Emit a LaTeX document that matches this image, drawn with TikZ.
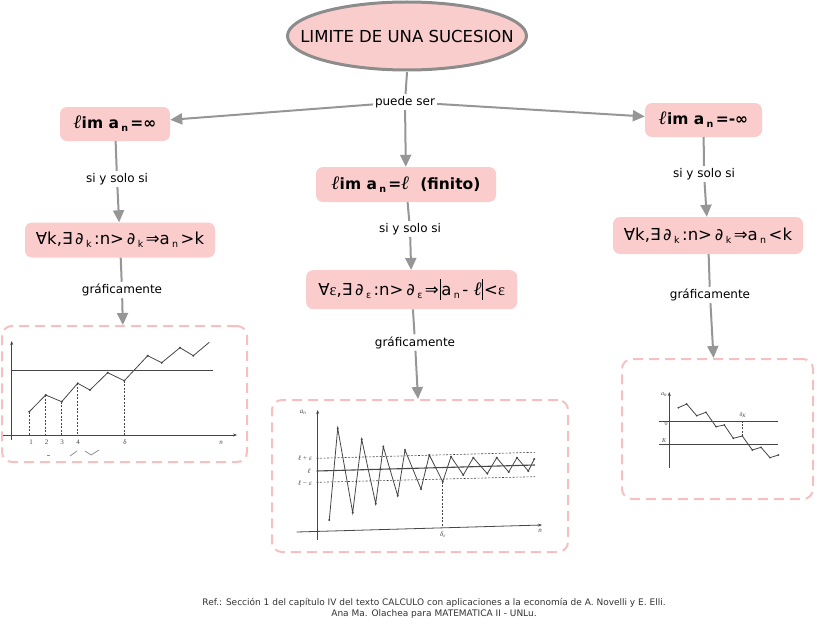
\documentclass[tikz,border=0pt]{standalone}
\usepackage{fontspec}
\setmainfont{DejaVu Sans}
\newfontfamily\lfont{Liberation Serif}
\usetikzlibrary{arrows.meta,shapes.geometric}
\definecolor{pinkf}{RGB}{250,204,204}
\definecolor{ellf}{RGB}{250,205,205}
\definecolor{connc}{RGB}{150,150,150}
\definecolor{ellb}{RGB}{140,140,140}
\definecolor{dashc}{RGB}{246,192,192}
\definecolor{ink}{RGB}{70,70,70}
\newcommand\sbn[1]{\kern0.15em\raisebox{-0.35ex}{\fontsize{9.5}{9.5}\selectfont #1}\kern0.15em}
\newcommand\ellbold{{\lfont\fontsize{19}{19}\selectfont\bfseries\itshape ℓ}}
\newcommand\ellit{{\lfont\fontsize{19}{19}\selectfont\itshape ℓ}}
\newcommand\eps{{\lfont ε}}
\newcommand\bigbar{\kern0.05em\rule[-5pt]{1pt}{21pt}\kern0.05em}
\tikzset{
  ellshape/.style={draw=ellb, line width=3pt, fill=ellf},
  elli/.style={rectangle, minimum width=239pt, minimum height=68pt, inner sep=0pt, font=\fontsize{16.5}{19}\selectfont},
  concept/.style={fill=pinkf, rounded corners=7pt, inner sep=0pt, font=\fontsize{16.5}{18}\selectfont},
  boldc/.style={concept, font=\fontsize{15.5}{18}\selectfont\bfseries},
  lbl/.style={inner sep=2pt, font=\fontsize{12}{14}\selectfont},
  connl/.style={draw=connc, line width=2pt},
  arr/.style={connl, -{Triangle[length=12pt,width=11pt]}},
  gbox/.style={draw=dashc, line width=2pt, dash pattern=on 10pt off 6pt, rounded corners=10pt, inner sep=0pt},
  gline/.style={draw=ink, line width=0.8pt},
  gdash/.style={draw=ink, line width=0.6pt, dash pattern=on 2pt off 1.5pt},
  axarr/.style={gline, -{Stealth[length=4pt,width=3pt]}},
  scan/.style={inner sep=0pt, text=ink, font=\lfont\fontsize{7}{8}\selectfont},
  scani/.style={scan, font=\lfont\itshape\fontsize{7}{8}\selectfont},
  foot/.style={inner sep=0pt, text=black!80, font=\fontsize{9}{10}\selectfont}
}
\begin{document}
\begin{tikzpicture}[x=1pt,y=-1pt]
\useasboundingbox (0,0) rectangle (817,626);
% concepts
\path[ellshape] (407,36) ellipse [x radius=119.5pt, y radius=34pt];
\node[elli] (top) at (407,36) {LIMITE DE UNA SUCESION};
\node[lbl] (pu) at (405,102) {puede ser};
\node[boldc, minimum width=110pt, minimum height=34pt] (n1) at (115,124) {\ellbold im a\sbn{n}=∞};
\node[boldc, minimum width=180pt, minimum height=35pt] (n2) at (406,184.5) {\ellbold im a\sbn{n}=\ellbold\ \ (finito)};
\node[boldc, minimum width=117pt, minimum height=34pt] (n3) at (703.5,120) {\ellbold im a\sbn{n}=-∞};
\node[concept, minimum width=190pt, minimum height=35pt] (n4) at (120,240) {∀k,∃\,∂\sbn{k}:n>\,∂\sbn{k}⇒a\sbn{n}>k};
\node[concept, minimum width=211pt, minimum height=39pt] (n5) at (411.7,289.7) {∀\eps,∃\,∂\sbn{ε}:n>\,∂\sbn{ε}⇒\bigbar a\sbn{n}- \ellit\bigbar<\eps};
\node[concept, minimum width=190pt, minimum height=37pt] (n6) at (708,235.5) {∀k,∃\,∂\sbn{k}:n>\,∂\sbn{k}⇒a\sbn{n}<k};
% labels
\node[lbl] (s1) at (117,179) {si y solo si};
\node[lbl] (s2) at (410,229) {si y solo si};
\node[lbl] (s3) at (704,174) {si y solo si};
\node[lbl] (g1) at (122,290) {gráficamente};
\node[lbl] (g2) at (415,342.5) {gráficamente};
\node[lbl] (g3) at (710,295) {gráficamente};
% graph boxes
\node[gbox, minimum width=245pt, minimum height=136pt] (b1) at (124.5,394) {};
\node[gbox, minimum width=296pt, minimum height=152pt] (b2) at (420,476) {};
\node[gbox, minimum width=191pt, minimum height=140pt] (b3) at (717.5,429) {};
% connectors
\draw[connl] ([yshift=-2pt]top.south) -- (pu);
\draw[arr] (pu) -- (n1);
\draw[arr] (pu) -- (n3);
\draw[arr] (pu) -- (n2);
\draw[connl] (n1) -- (s1);
\draw[arr] (s1) -- (n4);
\draw[connl] (n2) -- (s2);
\draw[arr] (s2) -- (n5);
\draw[connl] (n3) -- (s3);
\draw[arr] (s3) -- (n6);
\draw[connl] (n4) -- (g1);
\draw[arr] (g1) -- (b1);
\draw[connl] (n5) -- (g2);
\draw[arr] (g2) -- ([xshift=-2pt]b2.north);
\draw[connl] (n6) -- (g3);
\draw[arr] (g3) -- ([xshift=-4pt]b3.north);
% ---- graph 1
\draw[axarr] (11.7,440) -- (11.7,341);
\draw[axarr] (3,435) -- (237,435);
\draw[gline] (12,370) -- (213,370);
\draw[gline] (29.3,411.7) -- (45.7,395) -- (61.7,401.7) -- (77.7,383.3) -- (90,390) -- (107.7,372.7) -- (124.3,380.7) -- (147.7,355.7) -- (161.7,362.7) -- (180,347.7) -- (193.3,355.7) -- (209.3,342.3);
\foreach \p in {(29.3,411.7),(45.7,395),(61.7,401.7),(77.7,383.3),(90,390),(107.7,372.7),(124.3,380.7),(147.7,355.7),(161.7,362.7),(180,347.7),(193.3,355.7)} \fill[ink] \p circle (1.1pt);
\foreach \x/\y in {29.3/411.7,45.7/395,61.7/401.7,77.7/383.3,124.3/380.7} \draw[gdash] (\x,\y) -- (\x,435);
\node[scan] at (31,442) {1};
\node[scan] at (46.5,442) {2};
\node[scan] at (62,442) {3};
\node[scan] at (78,442) {4};
\node[scan] at (125,442) {δ};
\node[scani] at (221,443) {n};
\draw[gline, draw=ink!60] (47,455) -- (50,455);
\draw[gline, draw=ink!60] (70,456) -- (77,451);
\draw[gline, draw=ink!60] (85,451) -- (91,455) -- (99,450);
% ---- graph 2
\draw[axarr] (317.7,540) -- (317.7,410);
\draw[axarr] (296.7,532) -- (542,525);
\draw[gline, line width=1.1pt] (316.7,471) -- (535,465);
\draw[gdash] (316.7,458.3) -- (535,452.3);
\draw[gdash] (316.7,482.3) -- (535,476.7);
\draw[gline] (329.3,520) -- (337.7,428.3) -- (352.7,512.7) -- (361.7,439.3) -- (375.7,503.7) -- (383.3,446.7) -- (397.7,495.7) -- (405,450) -- (421,489) -- (429.3,455) -- (442.7,481.7) -- (451,456.7) -- (463.3,475) -- (473.3,457.7) -- (487.3,473.7) -- (496.7,457.7) -- (508.7,472) -- (517,457.7) -- (528.3,471) -- (534.3,459);
\foreach \p in {(329.3,520),(337.7,428.3),(352.7,512.7),(361.7,439.3),(375.7,503.7),(383.3,446.7),(397.7,495.7),(405,450),(421,489),(429.3,455),(442.7,481.7),(451,456.7),(463.3,475),(473.3,457.7),(487.3,473.7),(496.7,457.7),(508.7,472),(517,457.7),(528.3,471),(534.3,459)} \fill[ink] \p circle (1.1pt);
\draw[gdash] (442.7,481.7) -- (442.7,527);
\node[scani] at (303,412) {a\textsubscript{n}};
\node[scani] at (540,531) {n};
\node[scani] at (305,458) {ℓ + ε};
\node[scani] at (309,471) {ℓ};
\node[scani] at (305,483) {ℓ − ε};
\node[scani] at (443,535) {δ\textsubscript{ε}};
% ---- graph 3
\draw[axarr] (669.3,468) -- (669.3,392);
\draw[gline] (659.3,421.7) -- (778.3,421.7);
\draw[gline] (659.3,444) -- (778.3,444);
\draw[gline] (678.3,407.7) -- (686.7,404) -- (696.7,415.7) -- (706,412.3) -- (716,426.7) -- (724.3,425) -- (733.3,438.3) -- (742.3,436) -- (752.3,450) -- (761,447.3) -- (770,457.7) -- (778.3,455);
\foreach \p in {(678.3,407.7),(686.7,404),(696.7,415.7),(706,412.3),(716,426.7),(724.3,425),(733.3,438.3),(742.3,436),(752.3,450),(761,447.3),(770,457.7),(778.3,455)} \fill[ink] \p circle (1pt);
\draw[gdash] (742.3,436) -- (742.3,421.7);
\node[scan, font=\lfont\itshape\fontsize{6}{7}\selectfont] at (664,395) {a\textsubscript{n}};
\node[scan, font=\lfont\fontsize{6}{7}\selectfont] at (666,424) {0};
\node[scan, font=\lfont\itshape\fontsize{6}{7}\selectfont] at (664,441) {K};
\node[scan, font=\lfont\itshape\fontsize{6}{7}\selectfont] at (743,415) {δ\textsubscript{K}};
% footer
\node[foot] (f1) at (434,603) {Ref.: Sección 1 del capítulo IV del texto CALCULO con aplicaciones a la economía de A. Novelli y E. Elli.};
\node[foot] (f2) at (434,614) {Ana Ma. Olachea para MATEMATICA II - UNLu.};
\end{tikzpicture}
\end{document}
